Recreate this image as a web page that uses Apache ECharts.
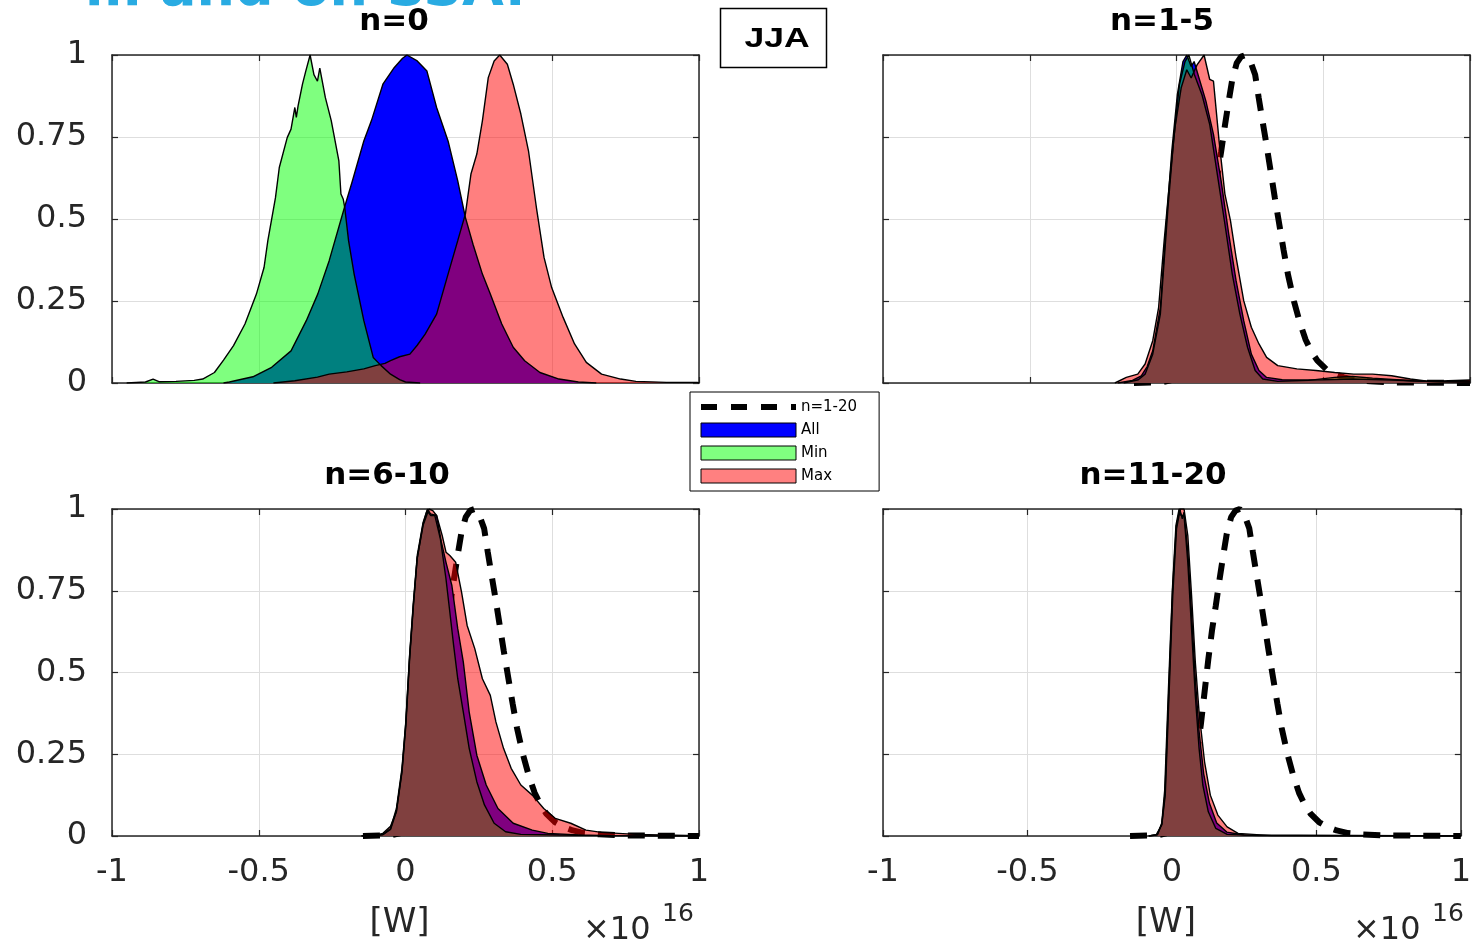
<!DOCTYPE html>
<html>
<head>
<meta charset="utf-8">
<script src="https://cdn.jsdelivr.net/npm/echarts@6/dist/echarts.min.js"></script>
<style>
  html, body { margin: 0; padding: 0; background: #fff; }
  #chart { width: 1474px; height: 948px; }
</style>
</head>
<body>
<div id="chart"></div>
<script>
// ---- data (x in units of 1e16 W, y normalised frequency) ----
const panelTitles = ['n=0', 'n=1-5', 'n=6-10', 'n=11-20'];
const seriesNames = ['All', 'Min', 'Max'];
const dashedName = 'n=1-20';

const n0All = [[-0.62,0],[-0.6,0.003],[-0.52,0.019],[-0.456,0.048],[-0.39,0.098],[-0.338,0.19],[-0.299,0.271],[-0.26,0.373],[-0.208,0.535],[-0.181,0.616],[-0.142,0.738],[-0.116,0.8],[-0.077,0.911],[-0.038,0.962],[-0.01,0.99],[0.005,1.0],[0.04,0.982],[0.073,0.951],[0.106,0.84],[0.145,0.738],[0.178,0.616],[0.204,0.505],[0.23,0.423],[0.262,0.332],[0.289,0.271],[0.328,0.18],[0.367,0.109],[0.406,0.068],[0.458,0.032],[0.523,0.012],[0.589,0.003],[0.65,0]];
const n0Min = [[-0.95,0],[-0.886,0.003],[-0.86,0.012],[-0.84,0.004],[-0.782,0.005],[-0.72,0.008],[-0.691,0.012],[-0.651,0.032],[-0.62,0.07],[-0.586,0.114],[-0.547,0.18],[-0.508,0.271],[-0.482,0.352],[-0.469,0.434],[-0.443,0.565],[-0.43,0.657],[-0.403,0.748],[-0.39,0.774],[-0.377,0.84],[-0.372,0.81],[-0.366,0.845],[-0.351,0.911],[-0.34,0.95],[-0.325,1.0],[-0.312,0.94],[-0.3,0.92],[-0.292,0.96],[-0.273,0.87],[-0.253,0.8],[-0.227,0.677],[-0.22,0.576],[-0.212,0.56],[-0.207,0.535],[-0.194,0.434],[-0.175,0.332],[-0.142,0.19],[-0.11,0.078],[-0.083,0.053],[-0.051,0.027],[-0.02,0.01],[0.0,0.003],[0.05,0]];
const n0Max = [[-0.45,0],[-0.377,0.007],[-0.3,0.018],[-0.26,0.027],[-0.2,0.034],[-0.142,0.043],[-0.103,0.053],[-0.07,0.06],[-0.051,0.068],[-0.02,0.08],[0.015,0.088],[0.04,0.115],[0.067,0.149],[0.106,0.21],[0.145,0.332],[0.178,0.434],[0.204,0.515],[0.223,0.637],[0.243,0.698],[0.262,0.799],[0.282,0.931],[0.302,0.982],[0.321,1.0],[0.347,0.972],[0.367,0.911],[0.393,0.82],[0.419,0.708],[0.446,0.535],[0.472,0.383],[0.498,0.291],[0.537,0.2],[0.576,0.119],[0.616,0.063],[0.668,0.027],[0.733,0.012],[0.785,0.005],[0.889,0.002],[0.994,0.002],[1.0,0]];

const n15All = [[-0.2,0],[-0.15,0.008],[-0.12,0.022],[-0.1,0.05],[-0.081,0.098],[-0.055,0.23],[-0.035,0.484],[-0.016,0.708],[0.003,0.88],[0.022,0.98],[0.035,1.0],[0.05,0.965],[0.06,0.98],[0.08,0.92],[0.1,0.86],[0.126,0.758],[0.152,0.616],[0.178,0.454],[0.203,0.312],[0.229,0.19],[0.255,0.088],[0.281,0.038],[0.307,0.017],[0.36,0.01],[0.41,0.009],[0.5,0.01],[0.604,0.012],[0.733,0.009],[0.85,0.005],[1.0,0.003]];
const n15Min = [[-0.18,0],[-0.13,0.01],[-0.107,0.027],[-0.081,0.088],[-0.055,0.21],[-0.029,0.535],[-0.01,0.738],[0.01,0.91],[0.029,0.98],[0.042,1.0],[0.061,0.94],[0.087,0.878],[0.113,0.789],[0.139,0.637],[0.165,0.484],[0.19,0.332],[0.216,0.21],[0.242,0.109],[0.268,0.038],[0.294,0.012],[0.345,0.005],[0.45,0.008],[0.539,0.017],[0.6,0.02],[0.668,0.015],[0.75,0.01],[0.797,0.007],[0.9,0.004],[1.0,0.003]];
const n15Max = [[-0.21,0],[-0.171,0.017],[-0.132,0.027],[-0.107,0.058],[-0.081,0.129],[-0.061,0.23],[-0.042,0.434],[-0.023,0.62],[-0.005,0.78],[0.016,0.9],[0.035,0.955],[0.05,0.93],[0.07,0.97],[0.094,1.0],[0.113,0.926],[0.126,0.92],[0.145,0.738],[0.165,0.576],[0.184,0.494],[0.203,0.383],[0.229,0.251],[0.255,0.17],[0.281,0.119],[0.307,0.078],[0.345,0.053],[0.41,0.043],[0.475,0.038],[0.539,0.032],[0.604,0.027],[0.668,0.027],[0.733,0.022],[0.797,0.012],[0.862,0.005],[0.926,0.007],[1.0,0.009]];

const n610All = [[-0.12,0],[-0.077,0.004],[-0.051,0.02],[-0.031,0.075],[-0.012,0.195],[0.001,0.335],[0.014,0.54],[0.027,0.705],[0.04,0.85],[0.06,0.955],[0.075,1.0],[0.085,0.985],[0.106,0.98],[0.122,0.9],[0.138,0.837],[0.158,0.766],[0.178,0.634],[0.197,0.532],[0.217,0.379],[0.243,0.247],[0.275,0.156],[0.315,0.084],[0.367,0.039],[0.432,0.018],[0.485,0.008],[0.589,0.003],[0.7,0.001],[1.0,0]];
const n610Min = [[-0.15,0],[-0.1,0.002],[-0.077,0.005],[-0.051,0.023],[-0.031,0.084],[-0.012,0.207],[0.001,0.349],[0.014,0.553],[0.027,0.716],[0.04,0.858],[0.06,0.959],[0.073,0.995],[0.086,0.98],[0.1,0.98],[0.119,0.908],[0.138,0.786],[0.151,0.685],[0.164,0.583],[0.178,0.481],[0.197,0.379],[0.217,0.268],[0.243,0.166],[0.269,0.095],[0.302,0.039],[0.341,0.013],[0.393,0.005],[0.523,0.003],[0.6,0.002],[0.7,0.001],[1.0,0]];
const n610Max = [[-0.15,0],[-0.1,0.003],[-0.077,0.008],[-0.051,0.03],[-0.031,0.075],[-0.012,0.2],[0.001,0.345],[0.014,0.55],[0.027,0.71],[0.04,0.85],[0.06,0.95],[0.08,1.0],[0.093,0.995],[0.106,0.98],[0.125,0.919],[0.138,0.868],[0.151,0.858],[0.171,0.837],[0.191,0.746],[0.21,0.644],[0.236,0.573],[0.262,0.481],[0.289,0.43],[0.308,0.349],[0.334,0.268],[0.36,0.207],[0.393,0.156],[0.432,0.125],[0.471,0.084],[0.51,0.054],[0.563,0.039],[0.615,0.018],[0.667,0.011],[0.785,0.005],[1.0,0.001]];

const n1120All = [[-0.08,0],[-0.05,0.004],[-0.035,0.037],[-0.024,0.13],[-0.011,0.44],[0.002,0.75],[0.015,0.945],[0.027,1.0],[0.036,0.97],[0.042,0.99],[0.055,0.87],[0.068,0.68],[0.081,0.48],[0.094,0.32],[0.11,0.19],[0.13,0.1],[0.155,0.04],[0.19,0.012],[0.25,0.003],[1.0,0]];
const n1120Min = [[-0.08,0],[-0.05,0.005],[-0.035,0.04],[-0.025,0.14],[-0.012,0.45],[0.002,0.76],[0.014,0.95],[0.025,1.0],[0.032,0.98],[0.042,0.98],[0.055,0.837],[0.068,0.634],[0.081,0.43],[0.094,0.268],[0.107,0.156],[0.126,0.074],[0.152,0.023],[0.191,0.005],[0.3,0.001],[1.0,0]];
const n1120Max = [[-0.08,0],[-0.055,0.003],[-0.035,0.034],[-0.023,0.125],[-0.01,0.43],[0.003,0.736],[0.016,0.939],[0.029,1.0],[0.042,1.0],[0.055,0.919],[0.068,0.736],[0.081,0.532],[0.094,0.379],[0.113,0.227],[0.133,0.125],[0.159,0.064],[0.191,0.028],[0.229,0.008],[0.345,0.001],[1.0,0]];

const n1to20 = [[-0.145,0],[-0.05,0.002],[-0.02,0.008],[0.0,0.02],[0.03,0.05],[0.05,0.09],[0.07,0.16],[0.085,0.24],[0.1,0.34],[0.113,0.44],[0.126,0.54],[0.139,0.63],[0.152,0.705],[0.165,0.785],[0.178,0.86],[0.19,0.925],[0.205,0.975],[0.22,0.995],[0.235,1.0],[0.25,0.985],[0.268,0.94],[0.28,0.87],[0.29,0.815],[0.305,0.735],[0.32,0.65],[0.335,0.565],[0.35,0.485],[0.365,0.405],[0.38,0.33],[0.4,0.25],[0.42,0.185],[0.44,0.132],[0.46,0.095],[0.48,0.068],[0.51,0.042],[0.54,0.027],[0.57,0.017],[0.61,0.009],[0.66,0.005],[0.73,0.002],[0.85,0.001],[1.0,0]];

const xMin = -1, xMax = 1, xStep = 0.5;
const yMin = 0, yMax = 1, yStep = 0.25;

const panelData = [
  { all: n0All, min: n0Min, max: n0Max, dashed: null },
  { all: n15All, min: n15Min, max: n15Max, dashed: n1to20 },
  { all: n610All, min: n610Min, max: n610Max, dashed: n1to20 },
  { all: n1120All, min: n1120Min, max: n1120Max, dashed: n1to20 }
];

// ---- layout ----
const grids = [
  { left: 112, top: 55, width: 587, height: 328 },
  { left: 883, top: 55, width: 587, height: 328 },
  { left: 112, top: 509, width: 587, height: 327 },
  { left: 883, top: 509, width: 587, height: 327 }
];
const titlePos = [[394, 22], [1162, 22], [387, 476], [1153, 476]];
const AXIS_COL = '#262626';
const GRID_COL = '#dedede';
const FONT = '"DejaVu Sans", "Liberation Sans", sans-serif';

const xAxes = [], yAxes = [], series = [];
grids.forEach((g, i) => {
  const bottomRow = i >= 2, leftCol = (i % 2) === 0;
  xAxes.push({
    type: 'value', gridIndex: i, min: xMin, max: xMax, interval: xStep, position: 'bottom',
    axisLine: { show: true, onZero: false, lineStyle: { color: AXIS_COL, width: 1.5 } },
    axisTick: { show: true, inside: true, length: 6, lineStyle: { color: AXIS_COL, width: 1.2 } },
    splitLine: { show: true, lineStyle: { color: GRID_COL, width: 1 } },
    axisLabel: { show: bottomRow, margin: 21, fontFamily: FONT, fontSize: 32, color: AXIS_COL },
    name: bottomRow ? '[W]' : '', nameLocation: 'middle', nameGap: 70,
    nameTextStyle: { fontFamily: FONT, fontSize: 34, color: AXIS_COL, padding: [0, 12, 0, 0] }
  });
  xAxes.push({
    type: 'value', gridIndex: i, min: xMin, max: xMax, interval: xStep, position: 'top',
    axisLine: { show: true, onZero: false, lineStyle: { color: AXIS_COL, width: 1.5 } },
    axisTick: { show: true, inside: true, length: 6, lineStyle: { color: AXIS_COL, width: 1.2 } },
    splitLine: { show: false }, axisLabel: { show: false }
  });
  yAxes.push({
    type: 'value', gridIndex: i, min: yMin, max: yMax, interval: yStep, position: 'left',
    axisLine: { show: true, onZero: false, lineStyle: { color: AXIS_COL, width: 1.5 } },
    axisTick: { show: true, inside: true, length: 6, lineStyle: { color: AXIS_COL, width: 1.2 } },
    splitLine: { show: true, lineStyle: { color: GRID_COL, width: 1 } },
    axisLabel: { show: leftCol, margin: 25, fontFamily: FONT, fontSize: 32, color: AXIS_COL }
  });
  yAxes.push({
    type: 'value', gridIndex: i, min: yMin, max: yMax, interval: yStep, position: 'right',
    axisLine: { show: true, onZero: false, lineStyle: { color: AXIS_COL, width: 1.5 } },
    axisTick: { show: true, inside: true, length: 6, lineStyle: { color: AXIS_COL, width: 1.2 } },
    splitLine: { show: false }, axisLabel: { show: false }
  });

  const pd = panelData[i];
  if (pd.dashed) {
    series.push({
      type: 'line', name: dashedName, data: pd.dashed, xAxisIndex: 2 * i, yAxisIndex: 2 * i,
      symbol: 'none', showSymbol: false, clip: false, silent: true, z: 2,
      color: '#000',
      lineStyle: { color: '#000', width: 6, type: [17, 13] }
    });
  }
  const specs = [
    { name: 'All', data: pd.all, color: '#0000ff', op: 1 },
    { name: 'Min', data: pd.min, color: '#00ff00', op: 0.5 },
    { name: 'Max', data: pd.max, color: '#ff0000', op: 0.5 }
  ];
  specs.forEach(s => {
    series.push({
      type: 'line', name: s.name, data: s.data, xAxisIndex: 2 * i, yAxisIndex: 2 * i,
      symbol: 'none', showSymbol: false, silent: true, z: 3,
      color: s.color,
      lineStyle: { color: '#000', width: 1.4 },
      areaStyle: { color: s.color, opacity: s.op }
    });
  });
});

const graphics = [];
// clipped super-title at the very top
graphics.push({ type: 'text', x: 85, y: -9, silent: true,
  style: { text: 'm and on SSA.', fill: '#29abe2', font: 'bold 54px "DejaVu Sans"', textAlign: 'left', textVerticalAlign: 'middle' } });
// panel titles
panelTitles.forEach((t, i) => {
  graphics.push({ type: 'text', x: titlePos[i][0], y: titlePos[i][1], silent: true,
    style: { text: t, fill: '#000', font: 'bold 31px "DejaVu Sans"', textAlign: 'center', textVerticalAlign: 'middle' } });
});
// JJA box
graphics.push({ type: 'rect', silent: true, shape: { x: 720.5, y: 8.5, width: 106, height: 59 },
  style: { fill: '#fff', stroke: '#000', lineWidth: 1.5 } });
graphics.push({ type: 'text', x: 777, y: 39, scaleX: 1.27, silent: true,
  style: { text: 'JJA', fill: '#000', font: 'bold 28px "Liberation Sans"', textAlign: 'center', textVerticalAlign: 'middle' } });
// x10^16 exponent labels
[[583, 931, 662, 914], [1353, 931, 1432, 914]].forEach(p => {
  graphics.push({ type: 'text', x: p[0], y: p[1], silent: true,
    style: { text: '×10', fill: AXIS_COL, font: '32px "DejaVu Sans"', textAlign: 'left', textVerticalAlign: 'middle' } });
  graphics.push({ type: 'text', x: p[2], y: p[3], silent: true,
    style: { text: '16', fill: AXIS_COL, font: '25px "DejaVu Sans"', textAlign: 'left', textVerticalAlign: 'middle' } });
});

const option = {
  animation: false,
  backgroundColor: '#fff',
  grid: grids.map(g => Object.assign({ containLabel: false, show: false }, g)),
  xAxis: xAxes,
  yAxis: yAxes,
  legend: {
    left: 690, top: 392, orient: 'vertical', selectedMode: false,
    padding: [6, 22, 6, 8], itemGap: 5, itemWidth: 95, itemHeight: 14,
    borderColor: '#000', borderWidth: 1, backgroundColor: '#fff',
    textStyle: { fontFamily: FONT, fontSize: 15, color: '#000', lineHeight: 18 },
    data: [
      { name: dashedName, lineStyle: { color: '#000', width: 6, type: [16, 14] }, itemStyle: { opacity: 0 } },
      { name: 'All', icon: 'rect', itemStyle: { color: '#0000ff', borderColor: '#000', borderWidth: 1 } },
      { name: 'Min', icon: 'rect', itemStyle: { color: '#80ff80', borderColor: '#000', borderWidth: 1 } },
      { name: 'Max', icon: 'rect', itemStyle: { color: '#ff8080', borderColor: '#000', borderWidth: 1 } }
    ]
  },
  graphic: graphics,
  series: series
};

const chart = echarts.init(document.getElementById('chart'), null, { renderer: 'canvas' });
chart.setOption(option);
</script>
</body>
</html>
